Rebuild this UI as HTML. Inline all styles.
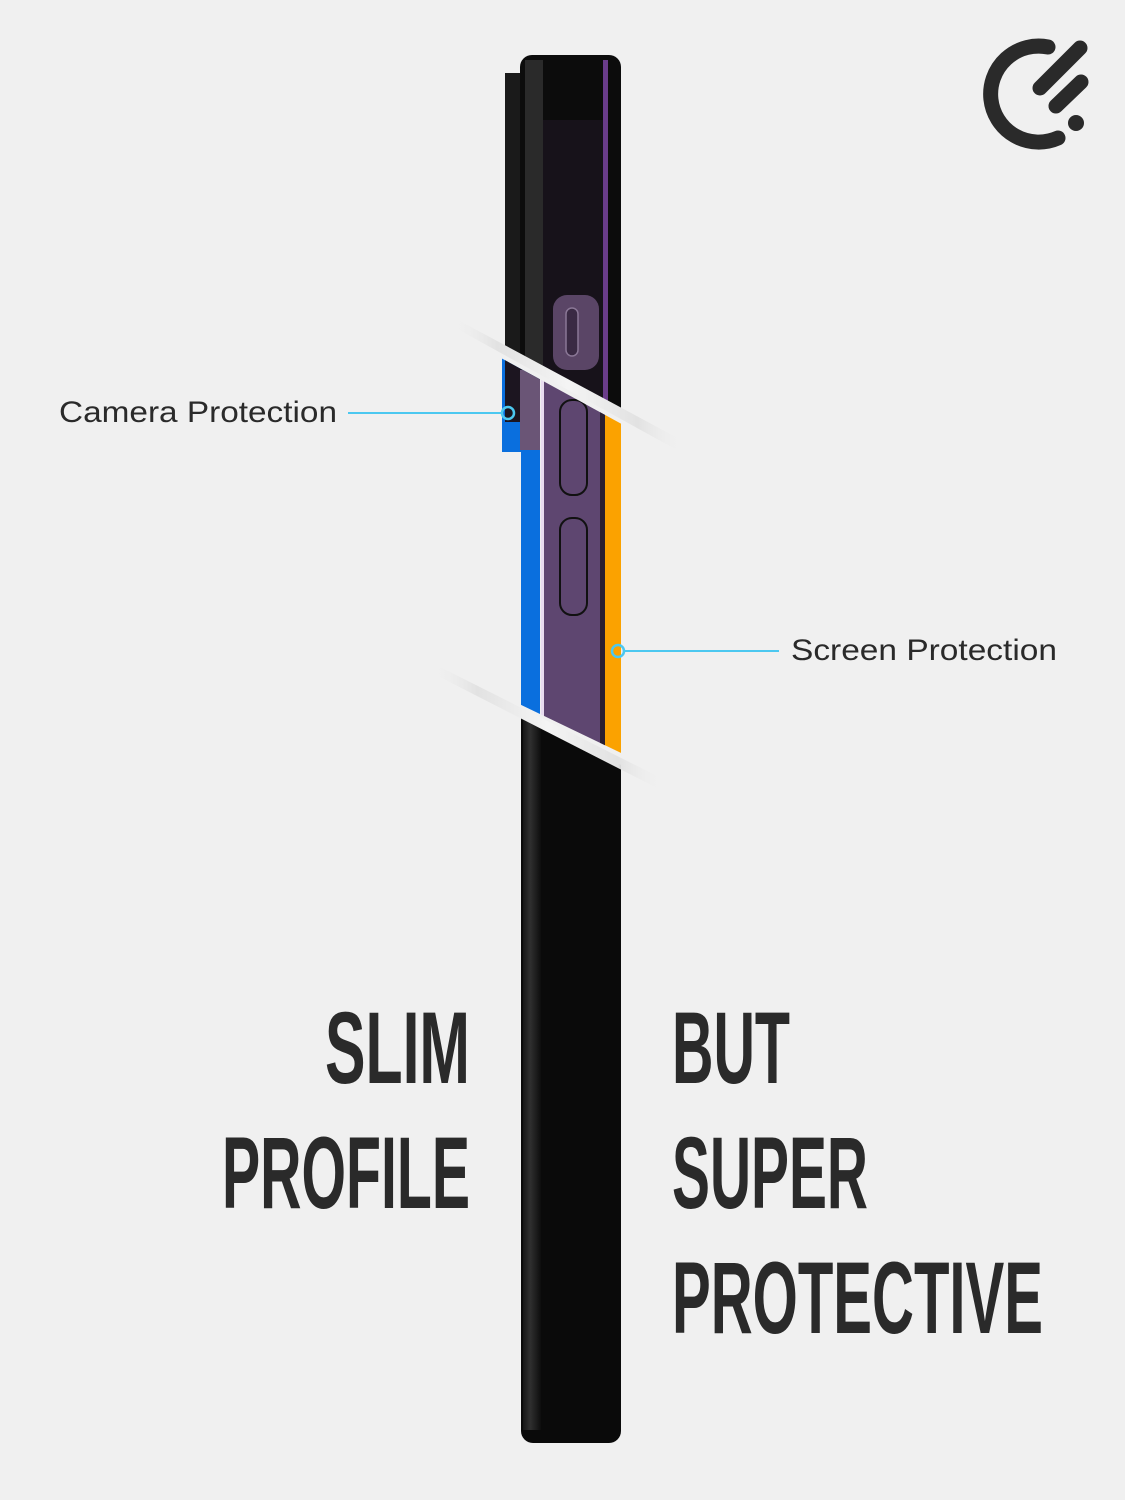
<!DOCTYPE html>
<html><head><meta charset="utf-8"><style>html,body{margin:0;padding:0;background:#f0f0f0}svg{display:block}</style></head>
<body>
<svg width="1125" height="1500" viewBox="0 0 1125 1500" xmlns="http://www.w3.org/2000/svg">
<defs>
<linearGradient id="edge" x1="0" x2="1"><stop offset="0" stop-color="#222"/><stop offset="0.4" stop-color="#555"/><stop offset="1" stop-color="#111"/></linearGradient>
<clipPath id="topc"><polygon points="490,40 640,40 640,420 490,338"/></clipPath>
<clipPath id="midc"><polygon points="490,352 640,434 640,762 490,690"/></clipPath>
<clipPath id="botc"><polygon points="490,702 640,774 640,1460 490,1460"/></clipPath>
<linearGradient id="glint" x1="0" x2="1"><stop offset="0" stop-color="#f0f0f0" stop-opacity="0"/><stop offset="0.2" stop-color="#e2e2e2"/><stop offset="0.5" stop-color="#f4f4f4"/><stop offset="0.8" stop-color="#e2e2e2"/><stop offset="1" stop-color="#f0f0f0" stop-opacity="0"/></linearGradient>
</defs>
<rect width="1125" height="1500" fill="#f0f0f0"/>

<!-- top section -->
<g clip-path="url(#topc)">
<rect x="505" y="73" width="20" height="300" fill="#1a1a1a"/>
<rect x="520" y="55" width="101" height="400" rx="12" fill="#0c0c0c"/>
<rect x="525" y="60" width="18" height="390" fill="#2a2a2a"/>
<rect x="543" y="120" width="60" height="330" fill="#17121a"/>
<rect x="603" y="60" width="5" height="390" fill="#6a3c8a"/>
<rect x="553" y="295" width="46" height="75" rx="14" fill="#5a4566"/>
<rect x="566" y="308" width="12" height="48" rx="6" fill="#3a2a44" stroke="#8a7796" stroke-width="1.5"/>
</g>

<!-- middle section -->
<g clip-path="url(#midc)">
<path d="M502,355 L540,355 L540,720 L521,720 L521,452 L502,452 Z" fill="#0a6fde"/>
<rect x="505" y="350" width="35" height="72" fill="#1c1520"/>
<rect x="520" y="370" width="20" height="80" fill="#6a5576"/>
<rect x="541" y="350" width="3" height="420" fill="#e8dcef"/>
<rect x="544" y="350" width="61" height="420" fill="#5e4670"/>
<rect x="600" y="350" width="5" height="420" fill="#2a1f30"/>
<rect x="605" y="350" width="16" height="420" fill="#fba200"/>
<rect x="560" y="400" width="27" height="95" rx="12" fill="#5e4670" stroke="#111" stroke-width="2"/>
<rect x="560" y="518" width="27" height="97" rx="12" fill="#5e4670" stroke="#111" stroke-width="2"/>
</g>

<!-- bottom section -->
<g clip-path="url(#botc)">
<rect x="521" y="690" width="100" height="753" rx="12" fill="#0a0a0a"/>
<rect x="523" y="700" width="18" height="730" fill="url(#edge)" opacity="0.5"/>
</g>

<!-- glints -->
<polygon points="450,325 458,320 685,442 677,450" fill="url(#glint)"/>
<polygon points="430,672 438,666 665,780 657,788" fill="url(#glint)"/>

<!-- callouts -->
<line x1="348" y1="413" x2="502" y2="413" stroke="#4cc8f0" stroke-width="2"/>
<circle cx="508" cy="413" r="6" fill="none" stroke="#4cc8f0" stroke-width="2.5"/>
<line x1="625" y1="651" x2="779" y2="651" stroke="#4cc8f0" stroke-width="2"/>
<circle cx="618" cy="651" r="6" fill="none" stroke="#4cc8f0" stroke-width="2.5"/>
<text x="59" y="422" font-family="Liberation Sans, sans-serif" font-size="30" fill="#2a2a2a" textLength="278" lengthAdjust="spacingAndGlyphs">Camera Protection</text>
<text x="791" y="660" font-family="Liberation Sans, sans-serif" font-size="30" fill="#2a2a2a" textLength="266" lengthAdjust="spacingAndGlyphs">Screen Protection</text>

<!-- big text -->
<g font-family="Liberation Sans, sans-serif" font-weight="bold" font-size="102" fill="#2a2a2a">
<text x="325" y="1083" textLength="145" lengthAdjust="spacingAndGlyphs">SLIM</text>
<text x="222" y="1208" textLength="248" lengthAdjust="spacingAndGlyphs">PROFILE</text>
<text x="672" y="1083" textLength="118" lengthAdjust="spacingAndGlyphs">BUT</text>
<text x="672" y="1208" textLength="196" lengthAdjust="spacingAndGlyphs">SUPER</text>
<text x="672" y="1333" textLength="371" lengthAdjust="spacingAndGlyphs">PROTECTIVE</text>
</g>

<!-- logo -->
<g fill="none" stroke="#2a2a2a" stroke-linecap="round">
<path d="M1048,47 A48,48 0 1 0 1058,138" stroke-width="15"/>
<line x1="1040" y1="88" x2="1080" y2="48" stroke-width="15"/>
<line x1="1056" y1="106" x2="1081" y2="82" stroke-width="15"/>
</g>
<circle cx="1076" cy="123" r="8" fill="#2a2a2a"/>
</svg>
</body></html>
